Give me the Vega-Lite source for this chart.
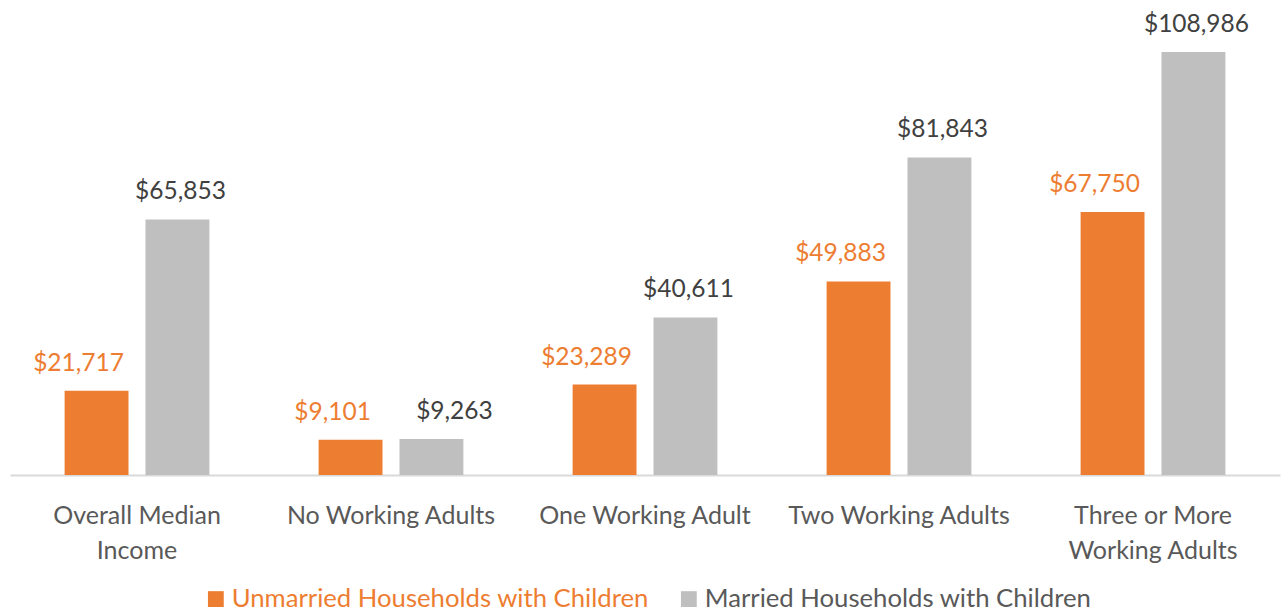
{
  "$schema": "https://vega.github.io/schema/vega-lite/v6.json",
  "width": 1270,
  "height": 423,
  "autosize": {"type": "none"},
  "padding": {"left": 10, "top": 52, "right": 1, "bottom": 136},
  "background": "white",
  "config": {"view": {"stroke": null}, "font": "Lato"},
  "data": {
    "values": [
      {"category": "Overall Median Income", "series": "Unmarried Households with Children", "value": 21717},
      {"category": "Overall Median Income", "series": "Married Households with Children", "value": 65853},
      {"category": "No Working Adults", "series": "Unmarried Households with Children", "value": 9101},
      {"category": "No Working Adults", "series": "Married Households with Children", "value": 9263},
      {"category": "One Working Adult", "series": "Unmarried Households with Children", "value": 23289},
      {"category": "One Working Adult", "series": "Married Households with Children", "value": 40611},
      {"category": "Two Working Adults", "series": "Unmarried Households with Children", "value": 49883},
      {"category": "Two Working Adults", "series": "Married Households with Children", "value": 81843},
      {"category": "Three or More Working Adults", "series": "Unmarried Households with Children", "value": 67750},
      {"category": "Three or More Working Adults", "series": "Married Households with Children", "value": 108986}
    ]
  },
  "encoding": {
    "x": {
      "field": "category",
      "type": "nominal",
      "sort": null,
      "scale": {"paddingInner": 0.43, "paddingOuter": 0.215},
      "axis": {
        "title": null,
        "labelAngle": 0,
        "labelExpr": "datum.value == 'Overall Median Income' ? ['Overall Median', 'Income'] : datum.value == 'Three or More Working Adults' ? ['Three or More', 'Working Adults'] : datum.value",
        "labelFontSize": 25,
        "labelColor": "#595959",
        "labelLineHeight": 35,
        "labelPadding": 48,
        "labelLimit": 0,
        "labelBaseline": "alphabetic",
        "ticks": false,
        "domainColor": "#d9d9d9",
        "domainWidth": 2
      }
    },
    "xOffset": {
      "field": "series",
      "type": "nominal",
      "sort": ["Unmarried Households with Children", "Married Households with Children"],
      "scale": {"paddingInner": 0.21, "paddingOuter": 0}
    },
    "y": {
      "field": "value",
      "type": "quantitative",
      "scale": {"domain": [0, 109000], "nice": false},
      "axis": null
    }
  },
  "layer": [
    {
      "mark": {"type": "bar"},
      "encoding": {
        "color": {
          "field": "series",
          "type": "nominal",
          "sort": ["Unmarried Households with Children", "Married Households with Children"],
          "scale": {"domain": ["Unmarried Households with Children", "Married Households with Children"], "range": ["#ED7D31", "#BFBFBF"]},
          "legend": {
            "title": null,
            "orient": "none",
            "legendX": 193,
            "legendY": 534,
            "direction": "horizontal",
            "symbolType": "square",
            "symbolSize": 250,
            "symbolStrokeWidth": 0,
            "labelFontSize": 25.7,
            "labelLimit": 0,
            "labelOffset": 3,
            "columnPadding": 27,
            "encode": {
              "labels": {
                "update": {
                  "fill": {"signal": "datum.value == 'Unmarried Households with Children' ? '#ED7D31' : '#595959'"}
                }
              }
            }
          }
        }
      }
    },
    {
      "mark": {
        "type": "text",
        "baseline": "alphabetic",
        "dy": -20,
        "fontSize": 24.5,
        "dx": {"expr": "datum.series == 'Unmarried Households with Children' ? -18 : (datum.category == 'No Working Adults' ? 23 : 3)"}
      },
      "encoding": {
        "text": {"field": "value", "type": "quantitative", "format": "$,.0f"},
        "color": {
          "condition": {"test": "datum.series == 'Unmarried Households with Children'", "value": "#ED7D31"},
          "value": "#404040"
        }
      }
    }
  ]
}
